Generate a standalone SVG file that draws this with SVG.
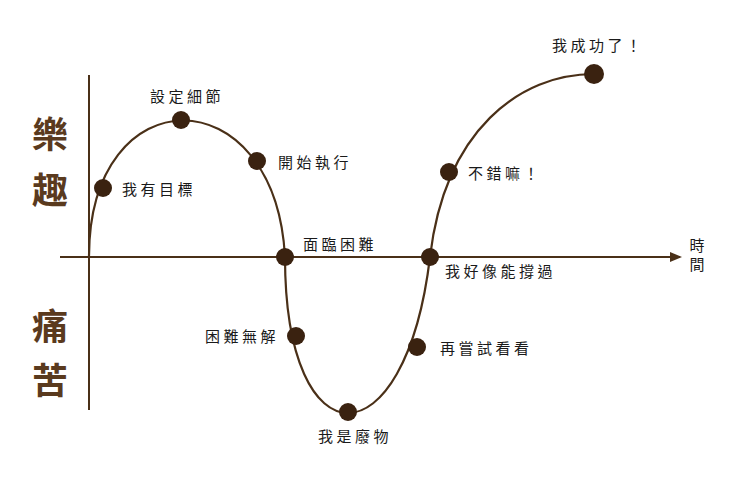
<svg xmlns="http://www.w3.org/2000/svg" width="740" height="487" viewBox="0 0 740 487">
<style>
.ax{stroke:#4a3018;stroke-width:2;fill:none}
.cv{stroke:#4a3018;stroke-width:2.2;fill:none}
.dot{fill:#3a2210}
.t{font-family:"Noto Sans CJK TC","Noto Sans CJK SC",sans-serif;font-size:15px;fill:#1a1a1a;letter-spacing:3.5px}
.big{font-family:"Noto Sans CJK TC","Noto Sans CJK SC",serif;font-size:36px;font-weight:bold;fill:#5a3a1e}
</style>
<defs><marker id="ar" markerWidth="12" markerHeight="10" refX="10" refY="5" orient="auto" markerUnits="userSpaceOnUse"><path d="M0,0 L12,5 L0,10 Z" fill="#4a3018"/></marker></defs>
<rect width="740" height="487" fill="#fff"/>
<g id="connectors">
<line class="ax" x1="89" y1="75" x2="89" y2="410"/>
<line class="ax" x1="60" y1="257" x2="680" y2="257" marker-end="url(#ar)"/>
<path class="cv" d="M89,257 C89,75 275,75 285,257 C285,465 405,465 430,257 C445,130 520,74 594,74"/>
</g>
<g id="axis-labels">
<text class="big" x="50" y="148" text-anchor="middle">樂</text>
<text class="big" x="50" y="204" text-anchor="middle">趣</text>
<text class="big" x="50" y="340" text-anchor="middle">痛</text>
<text class="big" x="50" y="394" text-anchor="middle">苦</text>
<text class="t" x="697" y="251" text-anchor="middle" style="letter-spacing:0">時</text>
<text class="t" x="697" y="270" text-anchor="middle" style="letter-spacing:0">間</text>
</g>
<g id="n1"><circle class="dot" cx="103" cy="188" r="9"/><text class="t" x="122" y="195">我有目標</text></g>
<g id="n2"><circle class="dot" cx="181" cy="120" r="9"/><text class="t" x="150" y="102">設定細節</text></g>
<g id="n3"><circle class="dot" cx="257" cy="161" r="9"/><text class="t" x="278" y="168">開始執行</text></g>
<g id="n4"><circle class="dot" cx="285" cy="257" r="9"/><text class="t" x="303" y="250">面臨困難</text></g>
<g id="n5"><circle class="dot" cx="296" cy="336" r="9"/><text class="t" x="279" y="342" text-anchor="end">困難無解</text></g>
<g id="n6"><circle class="dot" cx="348" cy="412" r="9"/><text class="t" x="318" y="442">我是廢物</text></g>
<g id="n7"><circle class="dot" cx="417" cy="347" r="9"/><text class="t" x="440" y="354">再嘗試看看</text></g>
<g id="n8"><circle class="dot" cx="430" cy="257" r="9"/><text class="t" x="445" y="277">我好像能撐過</text></g>
<g id="n9"><circle class="dot" cx="449" cy="172" r="9"/><text class="t" x="468" y="179">不錯嘛！</text></g>
<g id="n10"><circle class="dot" cx="594" cy="74" r="10"/><text class="t" x="552" y="51">我成功了！</text></g>
</svg>
